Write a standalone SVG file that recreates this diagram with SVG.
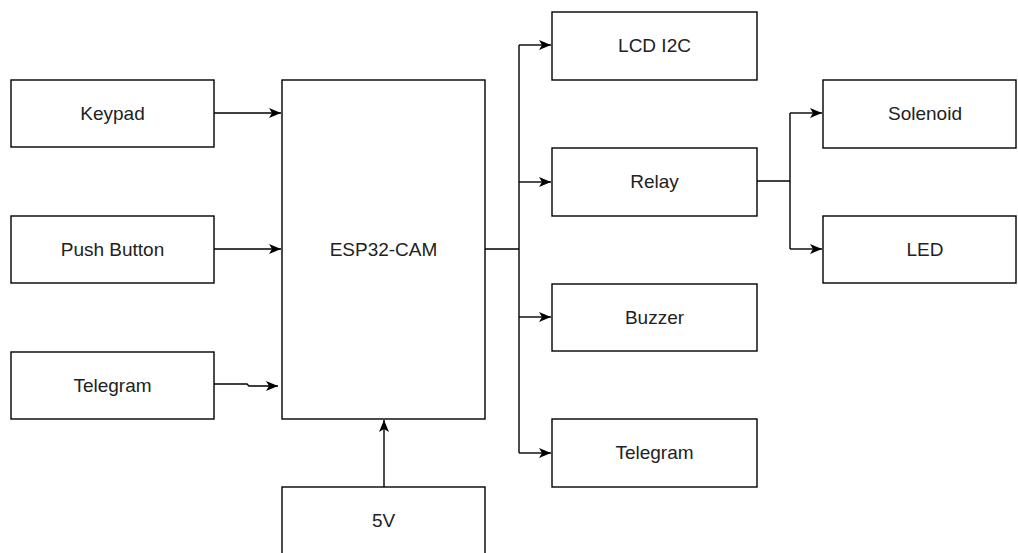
<svg xmlns="http://www.w3.org/2000/svg" width="1018" height="553" viewBox="0 0 1018 553">
<style>
.box{fill:#fff;stroke:#000;stroke-width:1.4}
.lbl{font-family:"Liberation Sans",Arial,sans-serif;font-size:19px;fill:#222;text-anchor:middle}
.ln{fill:none;stroke:#000;stroke-width:1.4}
</style>
<defs>
<marker id="ah" viewBox="0 0 12 10" refX="12" refY="5" markerWidth="12" markerHeight="10" markerUnits="userSpaceOnUse" orient="auto">
<path d="M0,0 L12,5 L0,10 L3,5 Z" fill="#000"/>
</marker>
</defs>
<rect width="1018" height="553" fill="#fff"/>
<g id="connectors">
<path class="ln" d="M214,113 H281" marker-end="url(#ah)"/>
<path class="ln" d="M214,249 H281" marker-end="url(#ah)"/>
<path class="ln" d="M214,384 H247 L249,386 H278" marker-end="url(#ah)"/>
<path class="ln" d="M384,487 V420" marker-end="url(#ah)"/>
<path class="ln" d="M485,249 H519"/>
<path class="ln" d="M519,45 V453"/>
<path class="ln" d="M519,45 H551" marker-end="url(#ah)"/>
<path class="ln" d="M519,182 H551" marker-end="url(#ah)"/>
<path class="ln" d="M519,317 H551" marker-end="url(#ah)"/>
<path class="ln" d="M519,453 H551" marker-end="url(#ah)"/>
<path class="ln" d="M757,181 H790"/>
<path class="ln" d="M790,113 V249"/>
<path class="ln" d="M790,113 H822" marker-end="url(#ah)"/>
<path class="ln" d="M790,249 H822" marker-end="url(#ah)"/>
</g>
<g id="keypad"><rect class="box" x="11" y="80" width="203" height="67"/><text class="lbl" x="112.5" y="120">Keypad</text></g>
<g id="pushbutton"><rect class="box" x="11" y="216" width="203" height="67"/><text class="lbl" x="112.5" y="256">Push Button</text></g>
<g id="telegram-in"><rect class="box" x="11" y="352" width="203" height="67"/><text class="lbl" x="112.5" y="392">Telegram</text></g>
<g id="esp32"><rect class="box" x="282" y="80" width="203" height="339"/><text class="lbl" x="383.5" y="256">ESP32-CAM</text></g>
<g id="power"><rect class="box" x="282" y="487" width="203" height="80"/><text class="lbl" x="383.5" y="527">5V</text></g>
<g id="lcd"><rect class="box" x="552" y="12" width="205" height="68"/><text class="lbl" x="654.5" y="52">LCD I2C</text></g>
<g id="relay"><rect class="box" x="552" y="148" width="205" height="68"/><text class="lbl" x="654.5" y="188">Relay</text></g>
<g id="buzzer"><rect class="box" x="552" y="284" width="205" height="67"/><text class="lbl" x="654.5" y="324">Buzzer</text></g>
<g id="telegram-out"><rect class="box" x="552" y="419" width="205" height="68"/><text class="lbl" x="654.5" y="459">Telegram</text></g>
<g id="solenoid"><rect class="box" x="823" y="80" width="193" height="68"/><text class="lbl" x="925" y="120">Solenoid</text></g>
<g id="led"><rect class="box" x="823" y="216" width="193" height="67"/><text class="lbl" x="925" y="256">LED</text></g>
</svg>
